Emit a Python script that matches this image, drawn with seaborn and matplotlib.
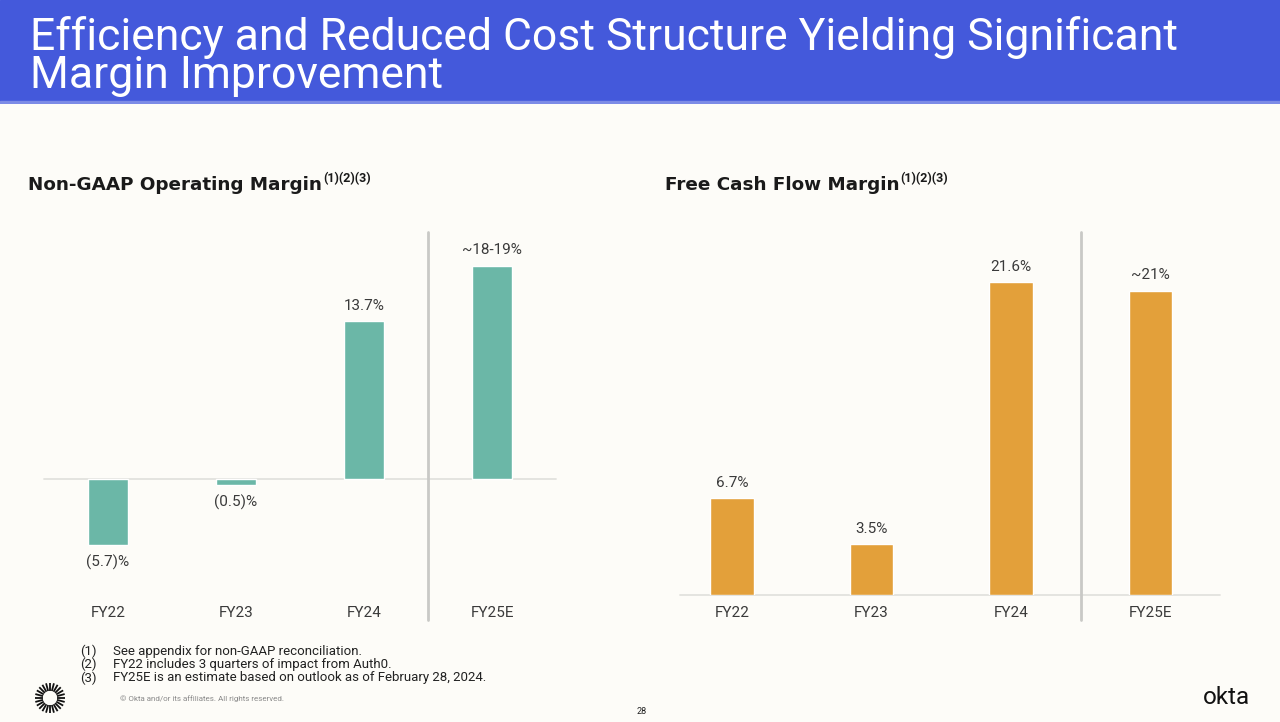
import numpy as np
import pandas as pd
import matplotlib.pyplot as plt
import seaborn as sns

# Data
years = ["FY22", "FY23", "FY24", "FY25E"]
op_margin = [-5.7, -0.5, 13.7, 18.5]
op_labels = ["(5.7)%", "(0.5)%", "13.7%", "~18-19%"]
fcf_margin = [6.7, 3.5, 21.6, 21.0]
fcf_labels = ["6.7%", "3.5%", "21.6%", "~21%"]
footnotes = ["See appendix for non-GAAP reconciliation.",
             "FY22 includes 3 quarters of impact from Auth0.",
             "FY25E is an estimate based on outlook as of February 28, 2024."]

sns.set_style("white")
plt.rcParams['font.family'] = ['Roboto', 'DejaVu Sans']

BG = '#FDFCF8'
TEAL = '#6BB7A7'
ORANGE = '#E3A03A'
TXT = '#3A3A3A'

W, H = 1280, 722
fig = plt.figure(figsize=(12.8, 7.22), dpi=100, facecolor=BG)


def box(x0, y0, x1, y1):
    # pixel box (top-left origin) -> figure rect
    return [x0 / W, 1 - y1 / H, (x1 - x0) / W, (y1 - y0) / H]


# Header band
hdr = fig.add_axes(box(0, 0, W, 104))
hdr.set_xlim(0, 1)
hdr.set_ylim(0, 1)
hdr.axis('off')
hdr.axhspan(0.025, 1, color='#4459DB')
hdr.axhspan(0, 0.025, color='#7C8BE6')
fig.text(30 / W, 1 - 50 / H, "Efficiency and Reduced Cost Structure Yielding Significant",
         color='white', fontsize=32, va='baseline')
fig.text(30 / W, 1 - 88 / H, "Margin Improvement",
         color='white', fontsize=32, va='baseline')


def chart(rect, vals, labels, color, ylim, xlim, tick_pad, vline_ymin):
    ax = fig.add_axes(rect)
    ax.set_facecolor(BG)
    df = pd.DataFrame({'year': years, 'value': vals})
    sns.barplot(data=df, x='year', y='value', color=color, width=0.31,
                saturation=1, ax=ax)
    ax.set_xlim(*xlim)
    ax.set_ylim(*ylim)
    for s in ax.spines.values():
        s.set_visible(False)
    ax.set_yticks([])
    ax.set_xlabel('')
    ax.set_ylabel('')
    ax.tick_params(axis='x', length=0, pad=tick_pad, labelsize=11, labelcolor=TXT)
    ax.axhline(0, color='#E2E2DE', lw=1.3, zorder=0, clip_on=False)
    ax.axvline(2.5, ymin=vline_ymin, ymax=1, color='#C9C9C6', lw=2, clip_on=False)
    for i, (v, t) in enumerate(zip(vals, labels)):
        off = 11 if v >= 0 else -12.5
        ax.annotate(t, (i, v), xytext=(0, off), textcoords='offset points',
                    ha='center', va='center', fontsize=11, color=TXT)
    return ax


# Left chart: zero at y=479, 11.53 px per point
chart(box(44, 232, 556, 600), op_margin, op_labels, TEAL,
      ylim=(-(600 - 479) / 11.53, (479 - 232) / 11.53),
      xlim=(-0.5, 3.5), tick_pad=4, vline_ymin=-20 / 368)

# Right chart: zero at y=595, 14.5 px per point
chart(box(680, 232, 1220, 595), fcf_margin, fcf_labels, ORANGE,
      ylim=(0, (595 - 232) / 14.5),
      xlim=(-0.373, 3.498), tick_pad=8, vline_ymin=-25 / 363)

# Chart titles with superscripts
fig.canvas.draw()
renderer = fig.canvas.get_renderer()
for x, title in [(28, "Non-GAAP Operating Margin"), (665, "Free Cash Flow Margin")]:
    t = fig.text(x / W, 1 - 190 / H, title, fontsize=13.2, fontweight='bold',
                 color='#1A1A1A', va='baseline', family=['DejaVu Sans'])
    bb = t.get_window_extent(renderer)
    fig.text((bb.x1 + 1) / W, 1 - 182 / H, "(1)(2)(3)", fontsize=9, fontweight='bold',
             color='#1A1A1A', va='baseline')

# Footnotes
for k, note in enumerate(footnotes):
    y = 1 - (651 + 13.5 * k) / H
    fig.text(80 / W, y, f"({k + 1})", fontsize=9.5, color='#222222', va='center')
    fig.text(113 / W, y, note, fontsize=9.5, color='#222222', va='center')
fig.text(120 / W, 1 - 699 / H, "\u00a9 Okta and/or its affiliates. All rights reserved.",
         fontsize=5.8, color='#8A8A8A', va='center')
fig.text(642 / W, 1 - 711 / H, "28", fontsize=6.5, color='#222222', va='center', ha='center')
fig.text(1226 / W, 1 - 698 / H, "okta", fontsize=17.5, color='#111111', va='center', ha='center')

# Sunburst logo
lg = fig.add_axes(box(34, 682, 66, 714))
lg.set_xlim(-1, 1)
lg.set_ylim(-1, 1)
lg.axis('off')
for a in np.linspace(0, 2 * np.pi, 24, endpoint=False):
    lg.plot([0.45 * np.cos(a), 0.95 * np.cos(a)], [0.45 * np.sin(a), 0.95 * np.sin(a)],
            color='#111111', lw=1.3, solid_capstyle='butt')

plt.savefig('out.png', dpi=100, facecolor=BG)
